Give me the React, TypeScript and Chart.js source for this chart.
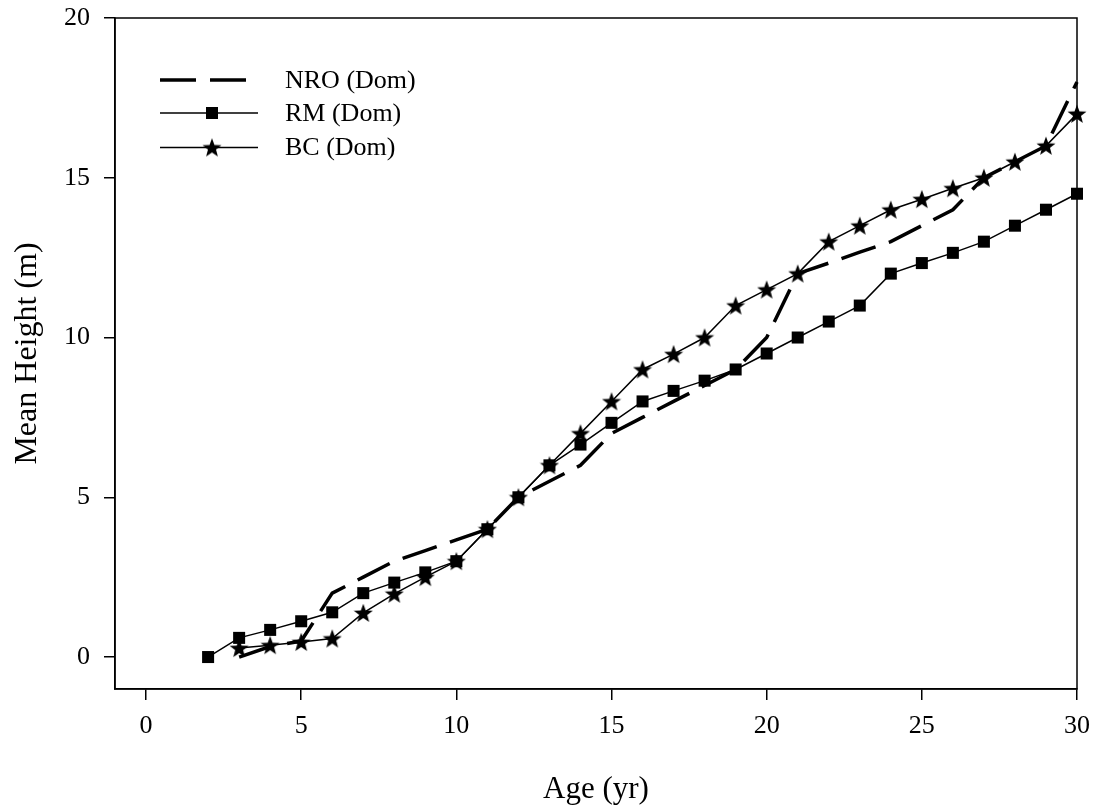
import { useEffect, useRef } from "react";
import { Chart, registerables } from "chart.js";

Chart.register(...registerables);

// ---- Data ----
const nroAges = [3, 4, 5, 6, 7, 8, 9, 10, 11, 12, 13, 14, 15, 16, 17, 18, 19, 20, 21, 22, 23, 24, 25, 26, 27, 28, 29, 30];
const nroHeights = [0, 0.33, 0.5, 2, 2.5, 3, 3.33, 3.67, 4, 5, 5.5, 6, 7, 7.5, 8, 8.5, 9, 10, 12, 12.33, 12.67, 13, 13.5, 14, 15, 15.5, 16, 18];

const rmAges = [2, 3, 4, 5, 6, 7, 8, 9, 10, 11, 12, 13, 14, 15, 16, 17, 18, 19, 20, 21, 22, 23, 24, 25, 26, 27, 28, 29, 30];
const rmHeights = [0, 0.6, 0.85, 1.12, 1.4, 2, 2.33, 2.65, 3, 4, 5, 6, 6.65, 7.33, 8, 8.33, 8.65, 9, 9.5, 10, 10.5, 11, 12, 12.33, 12.65, 13, 13.5, 14, 14.5];

const bcAges = [3, 4, 5, 6, 7, 8, 9, 10, 11, 12, 13, 14, 15, 16, 17, 18, 19, 20, 21, 22, 23, 24, 25, 26, 27, 28, 29, 30];
const bcHeights = [0.28, 0.37, 0.47, 0.58, 1.38, 1.98, 2.5, 3, 4, 5, 6, 7, 8, 9, 9.48, 10, 11, 11.5, 12, 13, 13.5, 14, 14.33, 14.67, 15, 15.5, 16, 17];

const seriesLabels = ["NRO (Dom)", "RM (Dom)", "BC (Dom)"];
const xTickValues = [0, 5, 10, 15, 20, 25, 30];
const yTickValues = [0, 5, 10, 15, 20];

const FONT = "'Liberation Serif', 'Times New Roman', serif";

function makeStar(size: number): HTMLCanvasElement {
  const c = document.createElement("canvas");
  c.width = size;
  c.height = size;
  const ctx = c.getContext("2d")!;
  const cx = size / 2;
  const cy = size / 2 + size * 0.04;
  const R = size / 2;
  const r = R * 0.42;
  ctx.beginPath();
  for (let i = 0; i < 10; i++) {
    const a = -Math.PI / 2 + (i * Math.PI) / 5;
    const rad = i % 2 === 0 ? R : r;
    const px = cx + rad * Math.cos(a);
    const py = cy + rad * Math.sin(a);
    if (i === 0) ctx.moveTo(px, py);
    else ctx.lineTo(px, py);
  }
  ctx.closePath();
  ctx.fillStyle = "#000";
  ctx.fill();
  return c;
}

const toPoints = (xs: number[], ys: number[]) => xs.map((x, i) => ({ x, y: ys[i] }));

export default function App() {
  const ref = useRef<HTMLCanvasElement | null>(null);

  useEffect(() => {
    document.body.style.margin = "0";
    const canvas = ref.current!;
    const star = makeStar(20);

    const frame = {
      id: "frame",
      afterDraw(chart: any) {
        const { ctx, chartArea } = chart;
        ctx.save();
        ctx.strokeStyle = "#000";
        ctx.lineWidth = 1.5;
        ctx.strokeRect(chartArea.left, chartArea.top, chartArea.right - chartArea.left, chartArea.bottom - chartArea.top);
        ctx.restore();
      },
    };

    const legend = {
      id: "customLegend",
      afterDraw(chart: any) {
        const { ctx } = chart;
        const rows = [80, 113, 147.5];
        const x0 = 160;
        const x1 = 258;
        ctx.save();
        chart.data.datasets.forEach((ds: any, i: number) => {
          const y = rows[i];
          ctx.beginPath();
          ctx.strokeStyle = "#000";
          ctx.lineWidth = ds.borderWidth;
          ctx.setLineDash(ds.borderDash || []);
          ctx.moveTo(x0, y);
          ctx.lineTo(i === 0 ? 247 : x1, y);
          ctx.stroke();
          ctx.setLineDash([]);
          const mx = 212;
          if (ds.pointStyle === "rect") {
            ctx.fillStyle = "#000";
            ctx.fillRect(mx - 6, y - 6, 12, 12);
          } else if (ds.pointStyle instanceof HTMLCanvasElement) {
            ctx.drawImage(ds.pointStyle, mx - ds.pointStyle.width / 2, y - ds.pointStyle.height / 2);
          }
          ctx.fillStyle = "#000";
          ctx.font = `26px ${FONT}`;
          ctx.textBaseline = "middle";
          ctx.textAlign = "left";
          ctx.fillText(ds.label, 285, y + 1);
        });
        ctx.restore();
      },
    };

    const chart = new Chart(canvas, {
      type: "line",
      data: {
        datasets: [
          {
            label: seriesLabels[0],
            data: toPoints(nroAges, nroHeights),
            borderColor: "#000",
            borderWidth: 3.5,
            borderDash: [36, 14],
            pointRadius: 0,
            pointStyle: false as any,
            clip: false as any,
          },
          {
            label: seriesLabels[1],
            data: toPoints(rmAges, rmHeights),
            borderColor: "#000",
            backgroundColor: "#000",
            borderWidth: 1.5,
            pointStyle: "rect",
            pointRadius: 8.5,
            pointBorderWidth: 0,
            pointBackgroundColor: "#000",
            clip: false as any,
          },
          {
            label: seriesLabels[2],
            data: toPoints(bcAges, bcHeights),
            borderColor: "#000",
            backgroundColor: "#000",
            borderWidth: 1.5,
            pointStyle: star as any,
            pointRadius: 10,
            clip: false as any,
          },
        ],
      },
      options: {
        responsive: false,
        animation: false,
        layout: { padding: { top: 18, right: 17, left: 0, bottom: 0 } },
        plugins: {
          legend: { display: false },
          tooltip: { enabled: false },
        },
        scales: {
          x: {
            type: "linear",
            min: -1,
            max: 30,
            afterBuildTicks: (scale: any) => {
              scale.ticks = xTickValues.map((v) => ({ value: v }));
            },
            afterFit: (scale: any) => {
              scale.height = 123;
              scale.paddingLeft = 0;
              scale.paddingRight = 0;
            },
            grid: { drawOnChartArea: false, drawTicks: true, tickLength: 11, color: "#000", lineWidth: 1.5 },
            border: { display: true, color: "#000", width: 1.5 },
            ticks: { color: "#000", font: { family: FONT, size: 26 }, padding: 11, maxRotation: 0 },
            title: { display: true, text: "Age (yr)", color: "#000", font: { family: FONT, size: 31 }, padding: { top: 0, bottom: 4 } },
          },
          y: {
            type: "linear",
            min: -1,
            max: 20,
            afterBuildTicks: (scale: any) => {
              scale.ticks = yTickValues.map((v) => ({ value: v }));
            },
            afterFit: (scale: any) => {
              scale.width = 115;
              scale.paddingTop = 0;
              scale.paddingBottom = 0;
            },
            grid: { drawOnChartArea: false, drawTicks: true, tickLength: 11, color: "#000", lineWidth: 1.5 },
            border: { display: true, color: "#000", width: 1.5 },
            ticks: { color: "#000", font: { family: FONT, size: 26 }, padding: 14 },
            title: { display: true, text: "Mean Height (m)", color: "#000", font: { family: FONT, size: 32 }, padding: { top: 8, bottom: 0 } },
          },
        },
      },
      plugins: [frame, legend],
    });

    return () => chart.destroy();
  }, []);

  return <canvas ref={ref} width={1094} height={812} style={{ display: "block" }} />;
}
